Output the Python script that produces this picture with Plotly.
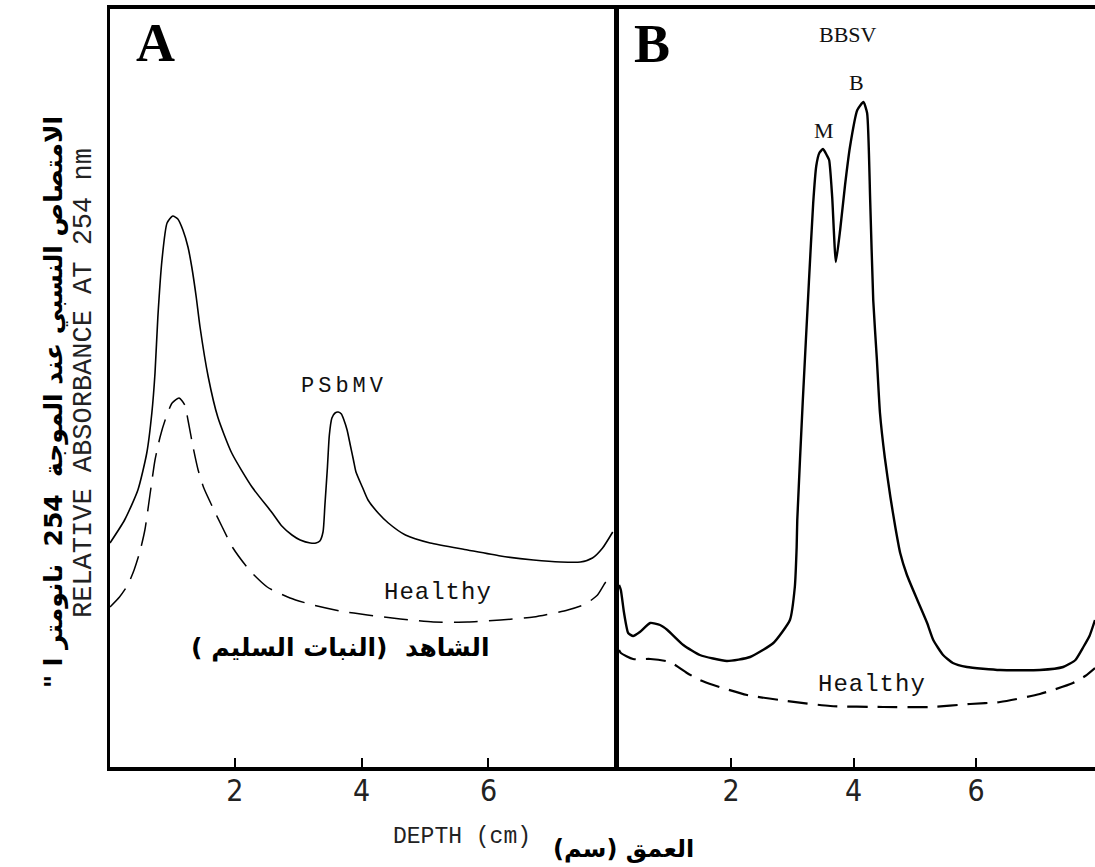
import plotly.graph_objects as go

# ---------------- data (depth in cm, relative absorbance, arbitrary units) ----------------
# Panel A: PSbMV-infected (solid) and healthy (dashed)
a_inf_x = [0.03, 0.26, 0.47, 0.61, 0.69, 0.74, 0.785, 0.85, 0.93, 1.02, 1.10, 1.18, 1.26,
           1.32, 1.39, 1.45, 1.58, 1.73, 1.95, 2.27, 2.59, 2.74, 2.90, 3.03, 3.19, 3.28, 3.34, 3.39,
           3.42, 3.46, 3.49, 3.53, 3.58, 3.63, 3.68, 3.72, 3.77, 3.82, 3.87, 3.91, 4.01, 4.10, 4.26,
           4.42, 4.69, 5.08, 5.67, 6.19, 6.71, 7.14, 7.45, 7.64, 7.80, 7.96]
a_inf_y = [22.4, 24.7, 27.7, 31.4, 35.4, 39.4, 45.0, 50.7, 54.4, 55.1, 54.8, 53.7, 52.0,
           50.0, 47.0, 44.0, 39.0, 35.0, 31.4, 28.0, 25.4, 24.1, 23.2, 22.7, 22.4, 22.4, 22.6, 23.5,
           26.2, 30.0, 33.2, 34.9, 35.4, 35.5, 35.3, 34.7, 33.7, 32.2, 30.7, 29.5, 28.0, 26.7, 25.4,
           24.4, 23.2, 22.4, 21.7, 21.1, 20.7, 20.5, 20.5, 20.9, 21.9, 23.5]

a_hea_x = [0.03, 0.18, 0.31, 0.41, 0.50, 0.58, 0.66, 0.74, 0.82, 0.90, 1.01, 1.12, 1.21, 1.26,
           1.34, 1.42, 1.51, 1.64, 1.80, 1.97, 2.24, 2.51, 2.87, 3.23, 3.66, 4.09, 4.61, 5.13, 5.67,
           6.19, 6.71, 7.25, 7.53, 7.72, 7.85, 7.96]
a_hea_y = [16.0, 17.0, 18.2, 19.7, 21.5, 23.7, 27.2, 30.7, 33.0, 34.7, 36.4, 36.9, 36.2, 34.7,
           32.0, 29.7, 27.9, 26.1, 24.0, 21.9, 19.6, 18.0, 16.9, 16.2, 15.6, 15.2, 14.8, 14.5, 14.5,
           14.7, 15.0, 15.7, 16.3, 17.2, 18.5, 19.2]

# Panel B: BBSV-infected (solid, peaks M and B) and healthy (dashed)
b_inf_x = [0.17, 0.20, 0.25, 0.32, 0.40, 0.51, 0.68, 0.84, 0.96, 1.22, 1.49, 1.93, 2.31, 2.69, 2.96,
           3.04, 3.07, 3.08, 3.17, 3.27, 3.34, 3.39, 3.44, 3.50, 3.56, 3.60, 3.65, 3.71, 3.78, 3.86,
           3.94, 4.06, 4.16, 4.22, 4.27, 4.32, 4.38, 4.43, 4.51, 4.60, 4.68, 4.76, 4.87, 5.04, 5.20,
           5.30, 5.46, 5.62, 5.85, 6.39, 7.04, 7.42, 7.62, 7.75, 7.85, 7.94]
b_inf_y = [18.2, 17.7, 15.5, 13.4, 13.1, 13.5, 14.4, 14.2, 13.7, 12.2, 11.2, 10.6, 11.0, 12.4, 14.7,
           18.0, 22.0, 24.7, 36.6, 48.5, 56.4, 60.1, 61.4, 61.8, 61.2, 60.7, 57.0, 50.5, 53.7, 58.2,
           62.0, 65.7, 66.5, 65.4, 56.7, 46.7, 40.7, 35.4, 30.9, 27.0, 24.0, 21.4, 19.2, 16.7, 14.4,
           12.7, 11.2, 10.4, 10.0, 9.7, 9.7, 10.0, 10.7, 12.0, 13.1, 14.7]

b_hea_x = [0.17, 0.20, 0.40, 0.68, 1.00, 1.28, 1.49, 1.71, 2.26, 2.92, 3.62, 4.48, 5.25, 5.90, 6.39,
           7.04, 7.58, 7.78, 7.94]
b_hea_y = [11.7, 11.4, 10.8, 10.8, 10.5, 9.4, 8.7, 8.2, 7.2, 6.6, 6.1, 6.0, 6.0, 6.3, 6.5,
           7.3, 8.4, 9.1, 9.9]

tick_vals = [2, 4, 6]
tick_text = ["2", "4", "6"]

y_title_en = "RELATIVE ABSORBANCE AT 254 nm"
y_title_ar = "\" الامتصاص النسبي عند الموجة  254  نانومتر ا"
x_title_en = "DEPTH (cm)"
x_title_ar = "العمق (سم)"
healthy_ar = "الشاهد  (النبات السليم )"

# ---------------- figure ----------------
fig = go.Figure()
mono = "Liberation Mono, DejaVu Sans Mono, monospace"
narrow = "Liberation Sans Narrow, DejaVu Sans Condensed, Liberation Mono, monospace"
serif = "Liberation Serif, DejaVu Serif, serif"
arab = "DejaVu Sans, Noto Sans, sans-serif"

fig.add_trace(go.Scatter(x=a_inf_x, y=a_inf_y, mode="lines", xaxis="x", yaxis="y",
                         line=dict(color="black", width=1.6, shape="spline", smoothing=0.6),
                         showlegend=False, hoverinfo="skip"))
fig.add_trace(go.Scatter(x=a_hea_x, y=a_hea_y, mode="lines", xaxis="x", yaxis="y",
                         line=dict(color="black", width=1.5, dash="24px,11px", shape="spline", smoothing=0.6),
                         showlegend=False, hoverinfo="skip"))
fig.add_trace(go.Scatter(x=b_inf_x, y=b_inf_y, mode="lines", xaxis="x2", yaxis="y2",
                         line=dict(color="black", width=2.4, shape="spline", smoothing=0.5),
                         showlegend=False, hoverinfo="skip"))
fig.add_trace(go.Scatter(x=b_hea_x, y=b_hea_y, mode="lines", xaxis="x2", yaxis="y2",
                         line=dict(color="black", width=2.2, dash="20px,10px", shape="spline", smoothing=0.6),
                         showlegend=False, hoverinfo="skip"))

W, H = 1095, 867
ydom = [1 - 767 / H, 1 - 9 / H]
xcommon = dict(showgrid=False, zeroline=False, showline=True, linecolor="black", mirror=True,
               ticks="inside", ticklen=9, tickwidth=2, tickcolor="black",
               tickvals=tick_vals, ticktext=tick_text, ticklabelstandoff=-6,
               tickfont=dict(family=narrow, size=30, color="#222"))
ycommon = dict(showgrid=False, zeroline=False, showline=True, linecolor="black",
               showticklabels=False, ticks="", range=[0, 75.8], domain=ydom)

fig.update_layout(
    width=W, height=H,
    margin=dict(l=0, r=0, t=0, b=0),
    paper_bgcolor="white", plot_bgcolor="white",
    xaxis=dict(xcommon, domain=[110 / W, 614 / W], range=[0.03, 7.98], linewidth=4, anchor="y"),
    yaxis=dict(ycommon, linewidth=3, mirror=True, anchor="x"),
    xaxis2=dict(xcommon, domain=[619 / W, 1.0], range=[0.17, 7.94], linewidth=4, anchor="y2"),
    yaxis2=dict(ycommon, linewidth=5, mirror=False, anchor="x2"),
)

ann = []


def add(x, y, text, font, xref="paper", yref="paper", angle=0):
    ann.append(dict(x=x, y=y, xref=xref, yref=yref, text=text, showarrow=False,
                    xanchor="center", yanchor="middle", textangle=angle, font=font))


# panel letters
add(0.74, 72.4, "<b>A</b>", dict(family=serif, size=54, color="black"), "x", "y")
add(0.71, 72.3, "<b>B</b>", dict(family=serif, size=54, color="black"), "x2", "y2")
# peak labels
add(3.91, 73.3, "BBSV", dict(family=serif, size=22, color="#111"), "x2", "y2")
add(3.52, 63.7, "M", dict(family=serif, size=22, color="#111"), "x2", "y2")
add(4.04, 68.5, "B", dict(family=serif, size=22, color="#111"), "x2", "y2")
add(3.72, 38.1, '<span style="letter-spacing:4px">PSbMV</span>', dict(family=mono, size=22, color="#111"), "x", "y")
add(5.2, 17.5, '<span style="letter-spacing:1px">Healthy</span>', dict(family=mono, size=24, color="#111"), "x", "y")
add(4.30, 8.3, '<span style="letter-spacing:1px">Healthy</span>', dict(family=mono, size=24, color="#111"), "x2", "y2")
add(3.66, 12.0, "<b>" + healthy_ar + "</b>", dict(family=arab, size=25, color="black"), "x", "y")
# axis titles
add(462 / W, 1 - 837 / H, x_title_en, dict(family=mono, size=23, color="#222"))
add(623 / W, 1 - 849 / H, "<b>" + x_title_ar + "</b>", dict(family=arab, size=24, color="black"))
add(84 / W, 1 - 383 / H, y_title_en, dict(family=mono, size=27, color="#222"), angle=-90)
add(54 / W, 1 - 402 / H, "<b>" + y_title_ar + "</b>", dict(family=arab, size=25, color="black"), angle=-90)
fig.update_layout(annotations=ann)

fig.write_html("out.html", config={"displayModeBar": False},
               post_script="document.body.style.margin='0';document.body.style.overflow='hidden';")
